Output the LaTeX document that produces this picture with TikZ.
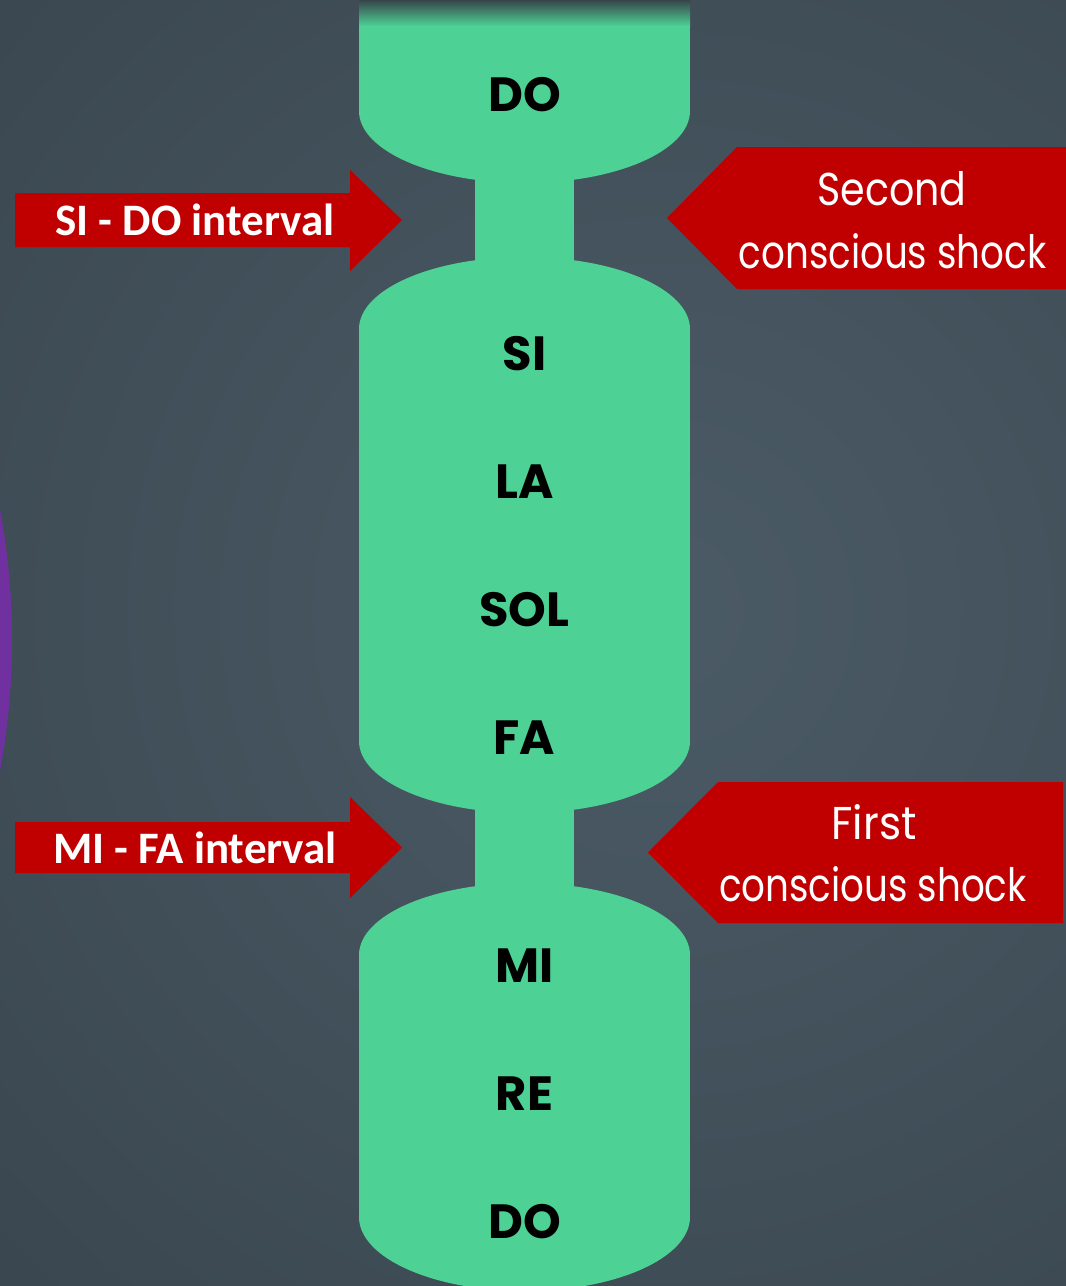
\documentclass[tikz,border=0pt]{standalone}
\usepackage{fontspec}
\usepackage{graphicx}
\newfontfamily\notefont{Poppins}
\newfontfamily\intfont{Carlito}
\newfontfamily\shockfont{Poppins}
\definecolor{bgin}{HTML}{4B5B65}
\definecolor{bgmid}{HTML}{3B4852}
\definecolor{bgout}{HTML}{2F3B45}
\definecolor{noteg}{HTML}{4ED194}
\definecolor{arrowred}{HTML}{C00000}
\definecolor{arcpurple}{HTML}{7030A0}
\definecolor{fadetop}{HTML}{37454B}
\pgfdeclareradialshading{bgshade}{\pgfpoint{0bp}{0bp}}{color(0bp)=(bgin); color(22bp)=(bgmid); color(36bp)=(bgout); color(50bp)=(bgout)}
\tikzset{
  note/.style={inner sep=0pt, font=\notefont\bfseries\fontsize{48}{48}\selectfont, text=black},
  interval/.style={inner sep=0pt, anchor=base, font=\intfont\bfseries\fontsize{45}{45}\selectfont, text=white},
  shock/.style={inner sep=0pt, anchor=base, font=\shockfont\fontsize{46}{46}\selectfont, text=white},
  greenfill/.style={fill=noteg},
  redfill/.style={fill=arrowred},
}
\begin{document}
\begin{tikzpicture}[x=1pt,y=-1pt]
\useasboundingbox (0,0) rectangle (1066,1286);
\begin{scope}
\clip (0,0) rectangle (1066,1286);
% background
\fill[bgout] (0,0) rectangle (1066,1286);
\shade[shading=bgshade] (660,610) circle[radius=1000];
% purple arc
\fill[arcpurple] (-698,640) circle[radius=710];
% green column
\fill[greenfill] (359,0) rectangle (690,111);
\fill[greenfill] (524.5,111) ellipse[x radius=165.5, y radius=72];
\fill[greenfill] (475,150) rectangle (574,290);
\fill[greenfill] (524.5,329) ellipse[x radius=165.5, y radius=72];
\fill[greenfill] (359,329) rectangle (690,741);
\fill[greenfill] (524.5,741) ellipse[x radius=165.5, y radius=72];
\fill[greenfill] (475,780) rectangle (574,920);
\fill[greenfill] (524.5,955) ellipse[x radius=165.5, y radius=72];
\fill[greenfill] (359,955) rectangle (690,1217);
\fill[greenfill] (524.5,1217) ellipse[x radius=165.5, y radius=74];
% fade at top
\shade[top color=fadetop, bottom color=noteg] (359,0) rectangle (690,26);
% red arrows
\fill[redfill] (15,193) -- (350,193) -- (350,170) -- (402,220) -- (350,271) -- (350,247) -- (15,247) -- cycle;
\fill[redfill] (15,822) -- (350,822) -- (350,797) -- (402,847.5) -- (350,898) -- (350,873) -- (15,873) -- cycle;
\fill[redfill] (667,218) -- (737,147) -- (1066,147) -- (1066,289) -- (737,289) -- cycle;
\fill[redfill] (648,852.5) -- (718,782) -- (1063,782) -- (1063,923) -- (718,923) -- cycle;
\end{scope}
% note labels
\node[note] (ndo1) at (524.5,95) {DO};
\node[note] (nsi) at (524.5,354) {SI};
\node[note] (nla) at (524.5,482) {LA};
\node[note] (nsol) at (524.5,610) {SOL};
\node[note] (nfa) at (524.5,738) {FA};
\node[note] (nmi) at (524.5,966) {MI};
\node[note] (nre) at (524.5,1094) {RE};
\node[note] (ndo2) at (524.5,1222) {DO};
% interval labels
\node[interval] (isido) at (195,235) {SI - DO interval};
\node[interval] (imifa) at (195,863) {MI - FA interval};
% shock labels
\node[shock] (s2a) at (892,205) {\scalebox{0.86}[1]{Second}};
\node[shock] (s2b) at (892.5,268) {\scalebox{0.81}[1]{conscious shock}};
\node[shock] (s1a) at (874,839) {\scalebox{0.92}[1]{First}};
\node[shock] (s1b) at (873,901) {\scalebox{0.81}[1]{conscious shock}};
\end{tikzpicture}
\end{document}
